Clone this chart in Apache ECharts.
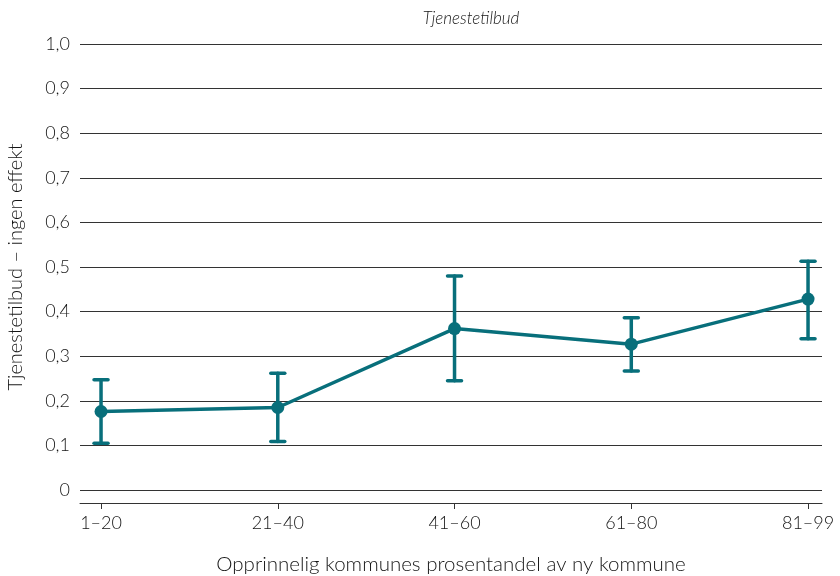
<!DOCTYPE html>
<html><head><meta charset="utf-8">
<script src="https://cdn.jsdelivr.net/npm/echarts@6/dist/echarts.min.js"></script>
<style>html,body{margin:0;padding:0;background:#fff}#c{width:840px;height:576px}</style>
</head><body><div id="c"></div>
<script>
const categories = ['1–20', '21–40', '41–60', '61–80', '81–99'];
const means = [0.176, 0.185, 0.362, 0.327, 0.428];
const lower = [0.105, 0.109, 0.245, 0.267, 0.339];
const upper = [0.247, 0.262, 0.480, 0.386, 0.513];
const yTicks = [0, 0.1, 0.2, 0.3, 0.4, 0.5, 0.6, 0.7, 0.8, 0.9, 1.0];

const color = '#086f7b';
const font = 'Lato';
const textColor = '#151515';
const weight = 300;
const idx = categories.map((c, i) => i);

const chart = echarts.init(document.getElementById('c'), null, {renderer: 'canvas'});
chart.setOption({
  animation: false,
  title: {
    text: 'Tjenestetilbud', left: 466, top: 5, textAlign: 'center',
    textStyle: {fontFamily: font, fontStyle: 'italic', fontWeight: weight, fontSize: 17, color: textColor}
  },
  grid: {left: 80, right: 18, top: 44, bottom: 86, containLabel: false, outerBoundsMode: 'none'},
  xAxis: {
    type: 'value', min: -0.119, max: 4.079,
    offset: 13,
    name: 'Opprinnelig kommunes prosentandel av ny kommune',
    nameLocation: 'middle', nameGap: 51,
    nameTextStyle: {fontFamily: font, fontWeight: weight, fontSize: 20.5, color: textColor},
    axisLine: {show: true, onZero: false, lineStyle: {color: '#333', width: 1}},
    axisTick: {show: true, customValues: idx, length: 6, lineStyle: {color: '#333'}},
    axisLabel: {
      customValues: idx, margin: 11, fontFamily: font, fontWeight: weight, fontSize: 18, color: textColor,
      formatter: v => categories[Math.round(v)] || ''
    },
    splitLine: {show: false}
  },
  yAxis: {
    type: 'value', min: 0, max: 1, interval: 0.1,
    name: 'Tjenestetilbud – ingen effekt',
    nameLocation: 'middle', nameGap: 54, nameRotate: 90,
    nameTextStyle: {fontFamily: font, fontWeight: weight, fontSize: 20, color: textColor},
    axisLine: {show: false}, axisTick: {show: false},
    axisLabel: {
      margin: 10, fontFamily: font, fontWeight: weight, fontSize: 18, color: textColor,
      customValues: yTicks,
      formatter: v => v.toFixed(1).replace('.', ',').replace(/^0,0$/, '0')
    },
    splitLine: {show: true, lineStyle: {color: '#333', width: 1}}
  },
  series: [
    {
      type: 'custom',
      data: idx.map(i => [i, lower[i], upper[i]]),
      renderItem: function (params, api) {
        const x = api.value(0);
        const lo = api.coord([x, api.value(1)]);
        const hi = api.coord([x, api.value(2)]);
        const cap = 7;
        const style = {stroke: color, lineWidth: 3.5, lineCap: 'round'};
        return {
          type: 'group',
          children: [
            {type: 'line', shape: {x1: lo[0], y1: lo[1], x2: hi[0], y2: hi[1]}, style: style},
            {type: 'line', shape: {x1: hi[0] - cap, y1: hi[1], x2: hi[0] + cap, y2: hi[1]}, style: style},
            {type: 'line', shape: {x1: lo[0] - cap, y1: lo[1], x2: lo[0] + cap, y2: lo[1]}, style: style}
          ]
        };
      },
      z: 3
    },
    {
      type: 'line',
      data: idx.map(i => [i, means[i]]),
      symbol: 'circle', symbolSize: 13,
      lineStyle: {color: color, width: 3.5},
      itemStyle: {color: color},
      z: 4
    }
  ]
});
</script>
</body></html>
